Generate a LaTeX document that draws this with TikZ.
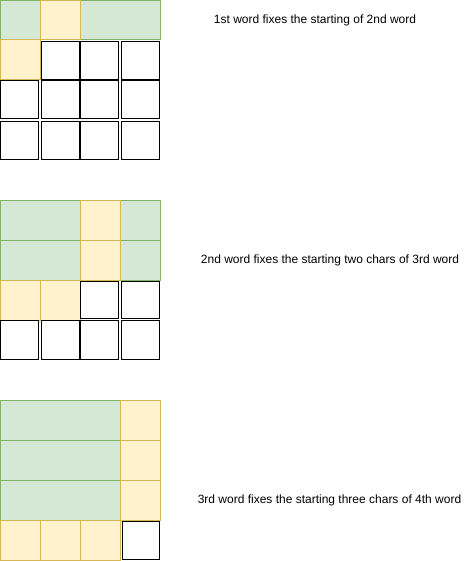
\documentclass[tikz,border=0pt]{standalone}
\usepackage{fontspec}
\setmainfont{Liberation Sans}
\definecolor{gfill}{HTML}{D5E8D4}
\definecolor{gline}{HTML}{82B366}
\definecolor{yfill}{HTML}{FFF2CC}
\definecolor{yline}{HTML}{D6B656}
\begin{document}
\begin{tikzpicture}[x=1pt,y=-1pt,
  gcell/.style={draw=gline,fill=gfill,line width=1pt},
  ycell/.style={draw=yline,fill=yfill,line width=1pt},
  wcell/.style={draw=black,fill=white,line width=1pt},
  lbl/.style={font=\fontsize{12}{14}\selectfont,inner sep=0pt,anchor=center}]
\useasboundingbox (0,0) rectangle (471,561);
% ---------- grid 1 ----------
\draw[gcell] (0.5,0.5) rectangle (40,40);
\draw[gcell] (80,0.5) rectangle (160,40);
\draw[ycell] (40,0.5) rectangle (80,40);
\draw[ycell] (0.5,40) rectangle (40,80);
\foreach \xa/\xb in {41.5/79.5,80.5/118.5,121.5/159.5}{
  \draw[wcell] (\xa,41.5) rectangle (\xb,79.5);
}
\foreach \ya/\yb in {80.5/118.5,121.5/159.5}{
  \foreach \xa/\xb in {0.5/38.5,41.5/79.5,80.5/118.5,121.5/159.5}{
    \draw[wcell] (\xa,\ya) rectangle (\xb,\yb);
  }
}
\node[lbl] (t1) at (315,20) {1st word fixes the starting of 2nd word};
% ---------- grid 2 ----------
\draw[gcell] (0.5,200) rectangle (80,240);
\draw[gcell] (0.5,240) rectangle (80,280);
\draw[gcell] (120,200) rectangle (160,240);
\draw[gcell] (120,240) rectangle (160,280);
\draw[ycell] (80,200) rectangle (120,240);
\draw[ycell] (80,240) rectangle (120,280);
\draw[ycell] (0.5,280) rectangle (40,320);
\draw[ycell] (40,280) rectangle (80,320);
\foreach \xa/\xb in {80.5/118.5,121.5/159.5}{
  \draw[wcell] (\xa,281.5) rectangle (\xb,318.5);
}
\foreach \xa/\xb in {0.5/38.5,41.5/79.5,80.5/118.5,121.5/159.5}{
  \draw[wcell] (\xa,320.5) rectangle (\xb,359.5);
}
\node[lbl] (t2) at (330,260) {2nd word fixes the starting two chars of 3rd word};
% ---------- grid 3 ----------
\draw[gcell] (0.5,400) rectangle (120,440);
\draw[gcell] (0.5,440) rectangle (120,480);
\draw[gcell] (0.5,480) rectangle (120,520);
\draw[ycell] (120,400) rectangle (160,440);
\draw[ycell] (120,440) rectangle (160,480);
\draw[ycell] (120,480) rectangle (160,520);
\draw[ycell] (0.5,520) rectangle (40,560);
\draw[ycell] (40,520) rectangle (80,560);
\draw[ycell] (80,520) rectangle (120,560);
\draw[wcell] (122,521.5) rectangle (159.5,559.5);
\node[lbl] (t3) at (329.5,500) {3rd word fixes the starting three chars of 4th word};
\end{tikzpicture}
\end{document}
